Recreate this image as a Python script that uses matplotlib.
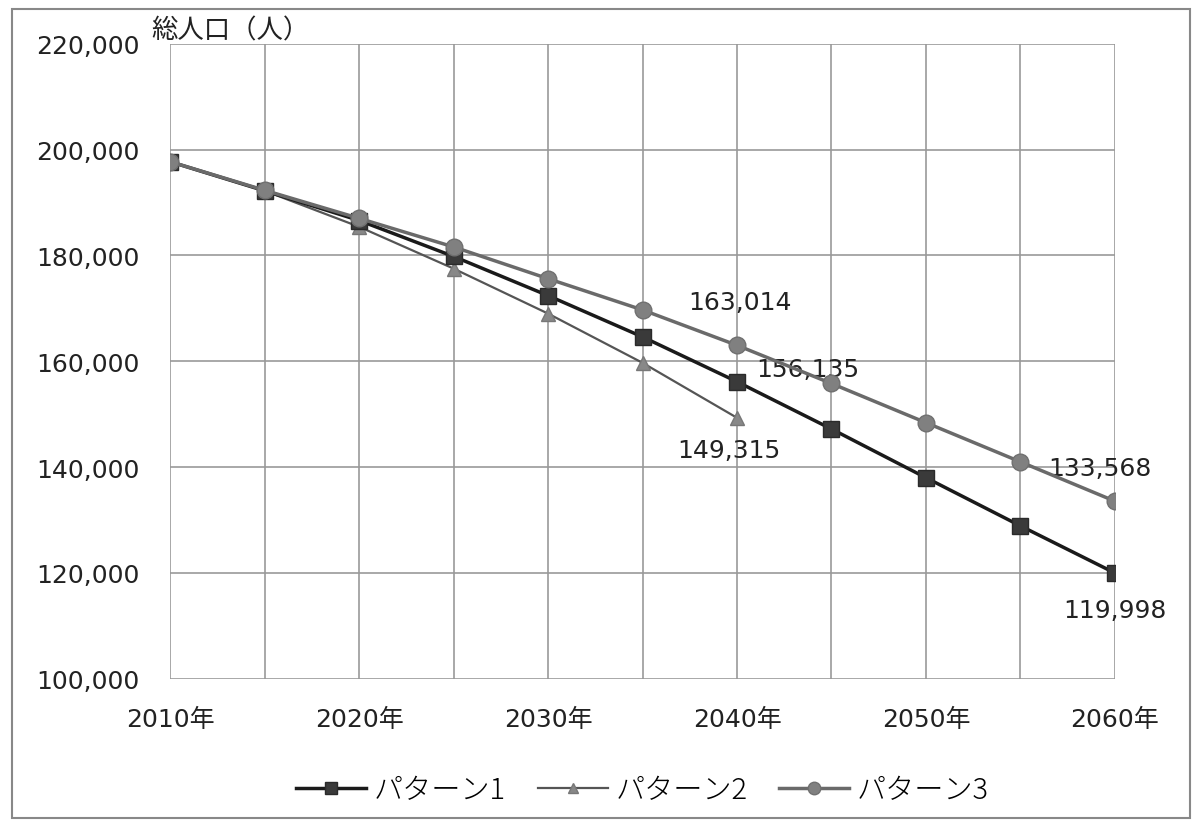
import matplotlib.pyplot as plt
import matplotlib.ticker as mticker
from matplotlib.patches import Rectangle

plt.rcParams['font.family'] = ['DejaVu Sans', 'Noto Sans CJK JP']

years = [2010, 2015, 2020, 2025, 2030, 2035, 2040, 2045, 2050, 2055, 2060]
pattern1 = [197700, 192200, 186600, 179800, 172400, 164600, 156135, 147200, 138000, 128900, 119998]
pattern2 = [197700, 192200, 185400, 177500, 169000, 159700, 149315]
pattern3 = [197700, 192300, 187000, 181600, 175600, 169700, 163014, 155800, 148400, 141000, 133568]
labels = ['パターン1', 'パターン2', 'パターン3']
tick_years = [2010, 2020, 2030, 2040, 2050, 2060]

fig = plt.figure(figsize=(12, 8.29), dpi=100)
ax = fig.add_axes([0.142, 0.180, 0.787, 0.766])

ax.plot(years, pattern1, color='#1a1a1a', lw=2.5, marker='s', ms=12,
        mfc='#3a3a3a', mec='#2a2a2a', label=labels[0], zorder=4)
ax.plot(years[:len(pattern2)], pattern2, color='#555555', lw=1.6, marker='^', ms=10,
        mfc='#888888', mec='#777777', label=labels[1], zorder=3)
ax.plot(years, pattern3, color='#6a6a6a', lw=2.5, marker='o', ms=12,
        mfc='#808080', mec='#707070', label=labels[2], zorder=5)

ax.set_xlim(2010, 2060)
ax.set_ylim(100000, 220000)
ax.set_xticks(tick_years)
ax.set_xticks(years, minor=True)
ax.set_xticklabels([f'{y}年' for y in tick_years])
ax.yaxis.set_major_locator(mticker.MultipleLocator(20000))
ax.yaxis.set_major_formatter(mticker.FuncFormatter(lambda v, p: f'{int(v):,}'))
ax.grid(True, which='both', axis='x', color='#999999', lw=1.2)
ax.grid(True, which='major', axis='y', color='#999999', lw=1.2)
for s in ax.spines.values():
    s.set_visible(False)
ax.tick_params(which='both', length=0, labelsize=18, colors='#222222')
ax.tick_params(axis='y', pad=22)
ax.tick_params(axis='x', pad=20)

ax.text(-0.02, 1.0, '総人口（人）', transform=ax.transAxes, fontsize=19,
        ha='left', va='bottom', color='#222222')

ann = [
    (pattern3[6], 2040, 2, 31),
    (pattern1[6], 2040, 51, 9),
    (pattern2[6], 2040, -6, -23),
    (pattern3[10], 2060, -11, 24),
    (pattern1[10], 2060, 0, -27),
]
for v, x, dx, dy in ann:
    ax.annotate(f'{v:,}', (x, v), xytext=(dx, dy), textcoords='offset points',
                ha='center', va='center', fontsize=18, color='#222222')

leg = ax.legend(loc='upper center', bbox_to_anchor=(0.5, -0.11), ncol=3, frameon=False,
                prop={'family': ['Noto Sans CJK JP'], 'size': 21, 'weight': 'light'},
                handlelength=2.4, columnspacing=1.1, handletextpad=0.25, markerscale=0.75)

fig.patches.append(Rectangle((0.01, 0.012), 0.982, 0.976, transform=fig.transFigure,
                             fill=False, edgecolor='#888888', lw=1.5))

fig.savefig('out.png', dpi=100)
